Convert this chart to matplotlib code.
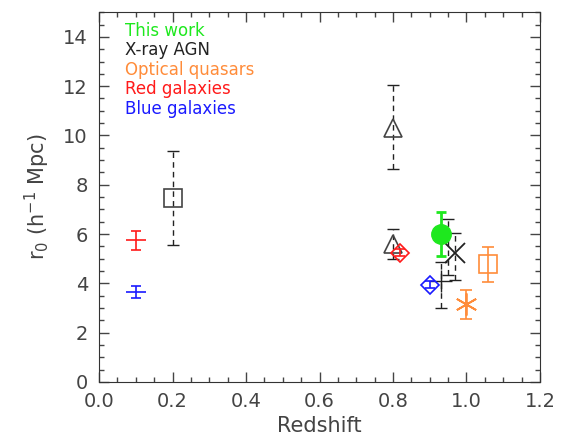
import matplotlib
matplotlib.use('Agg')
import matplotlib.pyplot as plt
from matplotlib.ticker import MultipleLocator

# This work
work_z = [0.93]
work_r0 = [6.0]
work_err = [0.9]

# X-ray AGN (dashed error bars)
agn_markers = ['s', '^', '^', '+', 'x', None]
agn_z = [0.2, 0.8, 0.8, 0.93, 0.97, 0.95]
agn_r0 = [7.45, 10.3, 5.6, 4.1, 5.25, 5.5]
agn_err_lo = [1.9, 1.65, 0.6, 1.1, 1.1, 1.15]
agn_err_hi = [1.9, 1.75, 0.6, 0.75, 0.8, 1.1]

# Optical quasars
qso_markers = ['*', 's']
qso_z = [1.0, 1.06]
qso_r0 = [3.15, 4.77]
qso_err = [0.6, 0.7]

# Red galaxies
red_markers = ['+', 'D']
red_z = [0.1, 0.82]
red_r0 = [5.75, 5.25]
red_err = [0.38, 0.15]

# Blue galaxies
blue_markers = ['+', 'D']
blue_z = [0.1, 0.9]
blue_r0 = [3.65, 3.95]
blue_err = [0.25, 0.15]

legend_labels = ['This work', 'X-ray AGN', 'Optical quasars', 'Red galaxies', 'Blue galaxies']
green = '#1ee81e'
orange = '#ff8c3a'
red = '#ff1a1a'
blue = '#1a1aff'
black = '#222222'
legend_colors = [green, black, orange, red, blue]

fig = plt.figure(figsize=(5.63, 4.36), dpi=100)
ax = fig.add_axes([0.176, 0.124, 0.783, 0.848])

# X-ray AGN, dashed error bars
for m, z, r, lo, hi in zip(agn_markers, agn_z, agn_r0, agn_err_lo, agn_err_hi):
    eb = ax.errorbar(z, r, yerr=[[lo], [hi]], fmt='none', ecolor=black,
                     elinewidth=1.0, capsize=4, capthick=1.0)
    eb[2][0].set_linestyle((0, (4, 3)))
    if m is None:
        continue
    if m == '+':
        ax.plot(z, r, marker='+', ms=16, mew=1.0, color=black, ls='none')
    elif m == 'x':
        ax.plot(z, r, marker='x', ms=14, mew=1.3, color=black, ls='none')
    else:
        ax.plot(z, r, marker=m, ms=13, mew=1.2, mfc='none', mec='#444444', ls='none')

# Optical quasars
for m, z, r, e in zip(qso_markers, qso_z, qso_r0, qso_err):
    ax.errorbar(z, r, yerr=e, fmt='none', ecolor=orange, elinewidth=1.2,
                capsize=4, capthick=1.2)
    if m == '*':
        ax.plot(z, r, marker=(6, 2, 0), ms=16, mew=1.3, color=orange, ls='none')
    else:
        ax.plot(z, r, marker='s', ms=13, mew=1.2, mfc='none', mec=orange, ls='none')

# Red and blue galaxies
for markers, zs, rs, es, c in [(red_markers, red_z, red_r0, red_err, red),
                               (blue_markers, blue_z, blue_r0, blue_err, blue)]:
    for m, z, r, e in zip(markers, zs, rs, es):
        ax.errorbar(z, r, yerr=e, fmt='none', ecolor=c, elinewidth=1.2,
                    capsize=3.5, capthick=1.2)
        if m == '+':
            ax.plot(z, r, marker='_', ms=14, mew=1.2, color=c, ls='none')
        else:
            ax.plot(z, r, marker='D', ms=9, mew=1.2, mfc='none', mec=c, ls='none')

# This work
ax.errorbar(work_z, work_r0, yerr=work_err, fmt='o', ms=14, color=green,
            ecolor=green, elinewidth=2, capsize=3.5, capthick=2, zorder=5)

# legend as coloured text
for i, (lab, c) in enumerate(zip(legend_labels, legend_colors)):
    ax.text(0.058, 0.95 - i * 0.053, lab, color=c, fontsize=12,
            transform=ax.transAxes, va='center', ha='left')

ax.set_xlim(0, 1.2)
ax.set_ylim(0, 15)
ax.xaxis.set_major_locator(MultipleLocator(0.2))
ax.xaxis.set_minor_locator(MultipleLocator(0.05))
ax.yaxis.set_major_locator(MultipleLocator(2))
ax.yaxis.set_minor_locator(MultipleLocator(0.5))
ax.tick_params(which='both', direction='in', top=True, right=True, colors='#444444',
               labelsize=14)
ax.tick_params(which='major', length=7, width=1)
ax.tick_params(which='minor', length=3.5, width=1)
ax.tick_params(axis='x', which='major', pad=7)
ax.tick_params(axis='y', which='major', pad=8)
ax.xaxis.set_major_formatter(matplotlib.ticker.FormatStrFormatter('%.1f'))
for sp in ax.spines.values():
    sp.set_color('#333333')

ax.set_xlabel('Redshift', fontsize=15, color='#444444', labelpad=4)
ax.set_ylabel(r'r$_0$ (h$^{-1}$ Mpc)', fontsize=15, color='#444444', labelpad=8)

fig.savefig('out.png', dpi=100)
